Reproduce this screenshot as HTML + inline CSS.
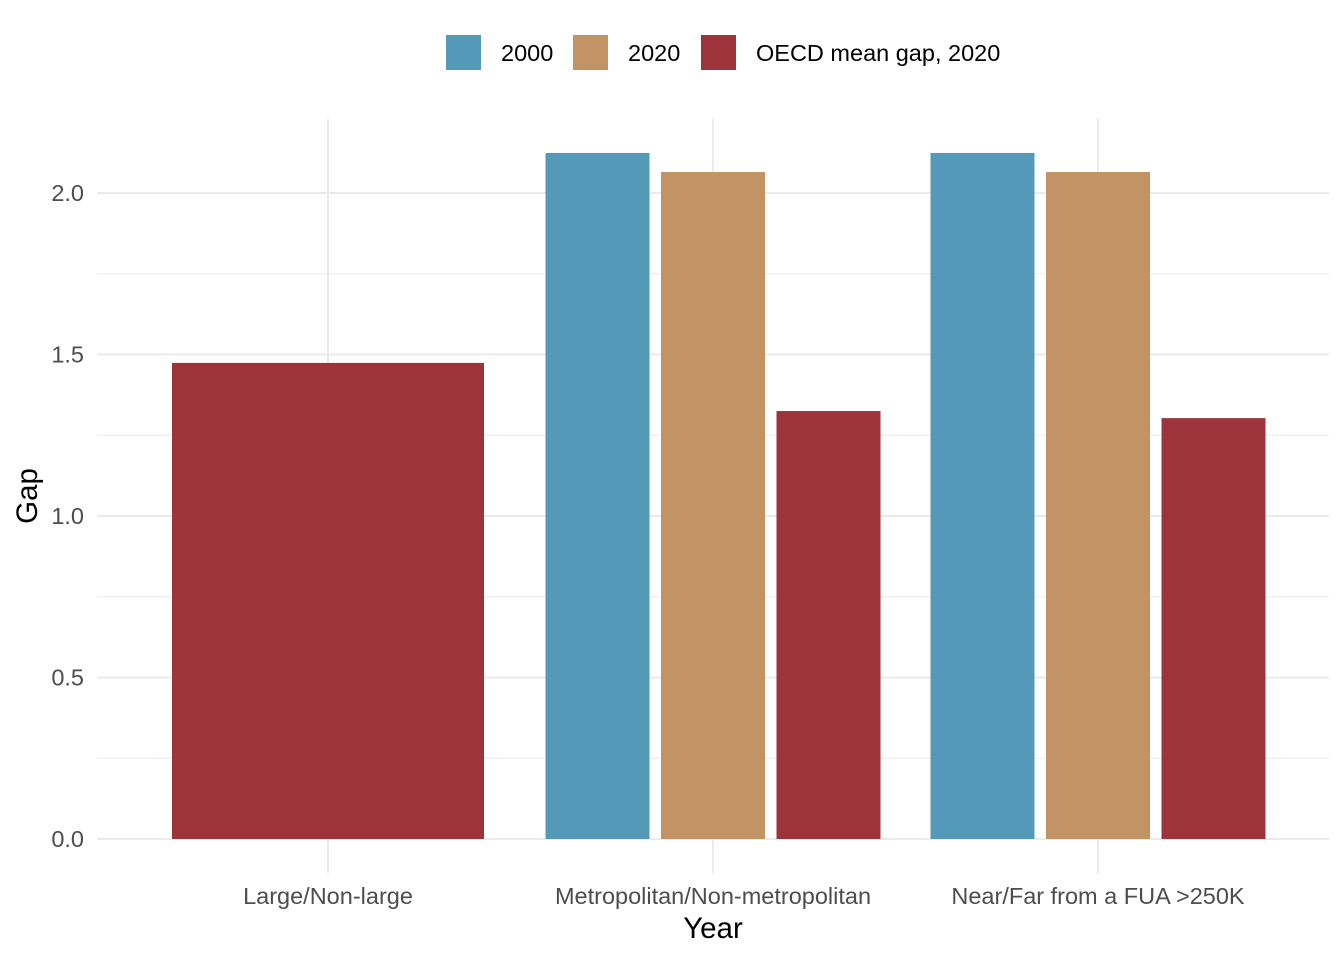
<!DOCTYPE html>
<html><head><meta charset="utf-8"><style>
body{margin:0;background:#fff;}
svg{display:block;font-family:"Liberation Sans",sans-serif;}
</style></head><body>
<svg id="chart" width="1344" height="960"></svg>
<script>
const categories=["Large/Non-large","Metropolitan/Non-metropolitan","Near/Far from a FUA >250K"];
const series=["2000","2020","OECD mean gap, 2020"];
const colors=["#5499b8","#c29365","#9d343c"];
const values2000=[null,2.124,2.124];
const values2020=[null,2.065,2.065];
const valuesOECD=[1.474,1.325,1.303];
const yTicks=[0,0.5,1.0,1.5,2.0];
const yTickLabels=["0.0","0.5","1.0","1.5","2.0"];
const yMinor=[0.25,0.75,1.25,1.75];

const NS="http://www.w3.org/2000/svg";
const svg=document.getElementById("chart");
const px0=97,px1=1329,py0=119,py1=873;
const y=v=>839-v*323;
const x=i=>328+i*385;
function el(tag,attrs,parent){const e=document.createElementNS(NS,tag);for(const k in attrs)e.setAttribute(k,attrs[k]);(parent||svg).appendChild(e);return e;}

yMinor.forEach(v=>{const l=el("line",{x1:px0,x2:px1,y1:y(v),y2:y(v),stroke:"#ebebeb","stroke-width":1});

});
yTicks.forEach((v,i)=>{const l=el("line",{x1:px0,x2:px1,y1:y(v),y2:y(v),stroke:"#ebebeb","stroke-width":2});


const t=el("text",{x:84,y:y(v)+8,"text-anchor":"end","font-size":23.5,fill:"#4d4d4d"});t.textContent=yTickLabels[i];

});
categories.forEach((c,i)=>{const l=el("line",{x1:x(i),x2:x(i),y1:py0,y2:py1,stroke:"#ebebeb","stroke-width":2});


const t=el("text",{x:x(i),y:904,"text-anchor":"middle","font-size":23.5,fill:"#4d4d4d"});t.textContent=c;

});

const all=[values2000,values2020,valuesOECD];
categories.forEach((c,i)=>{
  const present=all.map((a,s)=>[a[i],s]).filter(d=>d[0]!=null);
  const n=present.length;
  const bw=n===1?312:104, pitch=115.5;
  present.forEach((d,k)=>{
    const cx=n===1?x(i):x(i)+(k-(n-1)/2)*pitch;
    const r=el("rect",{x:cx-bw/2,y:y(d[0]),width:bw,height:y(0)-y(d[0]),fill:colors[d[1]]});
    
    
  });
});

const lx=[446,573,701];
series.forEach((s,i)=>{
  const r=el("rect",{x:lx[i],y:35,width:35,height:35,fill:colors[i]});
  
  
  const t=el("text",{x:lx[i]+55,y:61,"font-size":23.5,fill:"#000"});t.textContent=s;
  
  
});
const xt=el("text",{x:713,y:938,"text-anchor":"middle","font-size":29.5,fill:"#000"});xt.textContent="Year";


const yt=el("text",{x:0,y:0,"text-anchor":"middle","font-size":29.5,fill:"#000",transform:"translate(37,496) rotate(-90)"});yt.textContent="Gap";


</script>
</body></html>
